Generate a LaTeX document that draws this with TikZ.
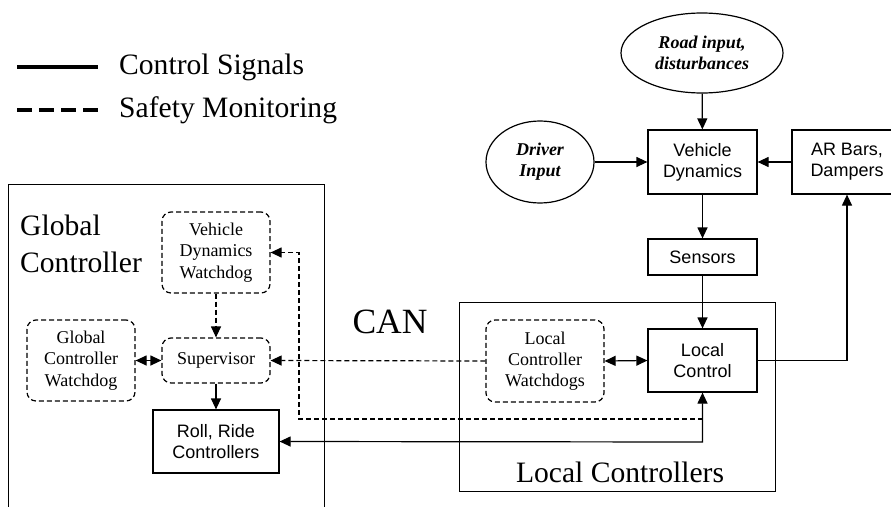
\documentclass[tikz,border=0pt]{standalone}
\usepackage{fontspec}
\setmainfont{Liberation Serif}
\newfontfamily\arialf{Liberation Sans}
\usetikzlibrary{arrows.meta,shapes.geometric}
\tikzset{
  lw/.style={line width=1.2pt},
  arr/.style={lw,-{Triangle[length=11pt,width=10pt]}},
  arrboth/.style={lw,{Triangle[length=11pt,width=10pt]}-{Triangle[length=11pt,width=10pt]}},
  dsh/.style={dash pattern=on 5pt off 3pt},
  sbox/.style={draw,lw,rectangle,inner sep=0pt,align=center,font=\arialf\fontsize{18}{21}\selectfont},
  wbox/.style={draw,lw,dsh,rectangle,rounded corners=9pt,inner sep=0pt,align=center,font=\fontsize{18}{21.3}\selectfont},
  ell/.style={draw,lw,ellipse,inner sep=0pt,align=center,font=\bfseries\itshape\fontsize{18}{21}\selectfont},
  big/.style={font=\fontsize{29.6}{37}\selectfont}
}
\begin{document}
\begin{tikzpicture}[x=1pt,y=-1pt]
\useasboundingbox (0,0) rectangle (891,506);
\clip (0,0) rectangle (891,506);
% legend
\draw[line width=3.5pt] (17,67) -- (98,67);
\draw[line width=3.5pt,dash pattern=on 15pt off 7pt] (17,110) -- (98,110);
\node[big,anchor=west,inner sep=0pt] (lg1) at (119,67) {Control Signals};
\node[big,anchor=west,inner sep=0pt] (lg2) at (119,110) {Safety Monitoring};
% containers
\node[draw,lw,rectangle,minimum width=316pt,minimum height=340pt,anchor=north west,inner sep=0pt] (glob) at (8,184) {};
\node[draw,lw,rectangle,minimum width=316pt,minimum height=189pt,anchor=north west,inner sep=0pt] (loc) at (459,302) {};
\node[big,anchor=west,align=left,inner sep=0pt] (globt) at (20,243.5) {Global\\Controller};
\node[font=\fontsize{35.5}{40}\selectfont,inner sep=0pt] (can) at (390,322) {CAN};
\node[big,inner sep=0pt] (loct) at (620,472) {Local Controllers};
% top
\node[ell,minimum width=162pt,minimum height=80pt] (road) at (702,53) {Road input,\\disturbances};
\node[ell,minimum width=108pt,minimum height=82pt] (drv) at (540,162) {Driver\\Input};
\node[sbox,minimum width=109pt,minimum height=64pt] (vd) at (702.5,162) {Vehicle\\Dynamics};
\node[sbox,minimum width=110pt,minimum height=64pt] (ar) at (847,162) {AR Bars,\\Dampers};
\node[sbox,minimum width=109pt,minimum height=36pt] (sens) at (702.5,257) {Sensors};
\node[sbox,minimum width=109pt,minimum height=63pt] (lc) at (702.5,360.5) {Local\\Control};
\node[wbox,minimum width=118pt,minimum height=82pt] (lcw) at (545,361) {Local\\Controller\\Watchdogs};
% global
\node[wbox,minimum width=108pt,minimum height=81pt] (gcw) at (81,360.5) {Global\\Controller\\Watchdog};
\node[wbox,minimum width=108pt,minimum height=45pt] (sup) at (216,360.5) {Supervisor};
\node[wbox,minimum width=108pt,minimum height=81pt] (vdw) at (216,252.5) {Vehicle\\Dynamics\\Watchdog};
\node[sbox,minimum width=126pt,minimum height=63pt] (rr) at (216,441.5) {Roll, Ride\\Controllers};
% connectors
\draw[arr] (road) -- (vd);
\draw[arr] (drv) -- (vd);
\draw[arr] (ar) -- (vd);
\draw[arr] (vd) -- (sens);
\draw[arr] (sens) -- (lc);
\draw[arr] (lc.east) -| (ar.south);
\draw[arrboth] (lcw.east) -- (lc.west);
\draw[arr,dsh] (lcw.west) -- (sup.east);
\coordinate (d1) at (702.5,419);
\coordinate (d2) at (299,419);
\coordinate (d3) at (299,252.5);
\draw[arr,dsh] (d1) -- (d2) -- (d3) -- (vdw.east);
\coordinate (s1) at (702.5,442);
\draw[arrboth] (rr.east) -- (s1) -- (lc.south);
\draw[arr,dsh] (vdw) -- (sup);
\draw[arr] (sup) -- (rr);
\draw[arrboth] (gcw.east) -- (sup.west);
\end{tikzpicture}
\end{document}
